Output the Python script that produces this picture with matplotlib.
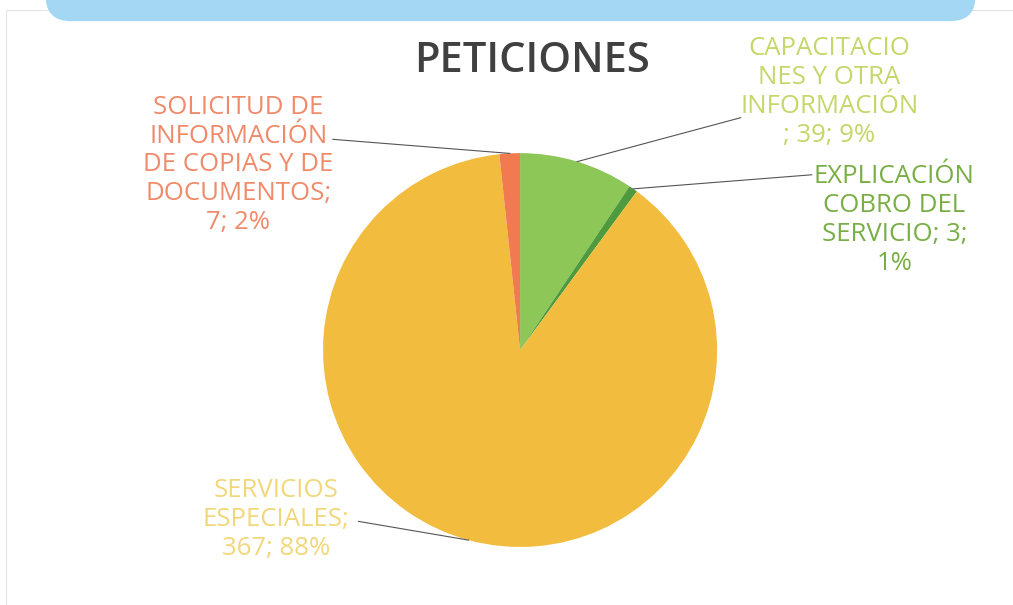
import matplotlib.pyplot as plt
import numpy as np
from matplotlib.patches import FancyBboxPatch, Rectangle

# data
labels = ['CAPACITACIO\nNES Y OTRA\nINFORMACIÓN\n; 39; 9%',
          'EXPLICACIÓN\nCOBRO DEL\nSERVICIO; 3;\n1%',
          'SERVICIOS\nESPECIALES;\n367; 88%',
          'SOLICITUD DE\nINFORMACIÓN\nDE COPIAS Y DE\nDOCUMENTOS;\n7; 2%']
values = [39, 3, 367, 7]
colors = ['#8DC757', '#4E9A3C', '#F2BC3F', '#F27A50']
text_colors = ['#C5D66A', '#79AE45', '#F2D77A', '#EF8A6A']
# label centre positions (in pie radius units) and where the leader meets the text
label_pos = [(1.57, 1.31), (1.90, 0.66), (-1.24, -0.86), (-1.43, 0.94)]
line_end = [(1.12, 1.18), (1.48, 0.89), (-0.82, -0.87), (-0.95, 1.07)]

fig = plt.figure(figsize=(10.13, 6.05), dpi=100)
fig.patch.set_facecolor('white')

# faint chart frame and the cut-off banner on top
fig.add_artist(Rectangle((0.006, -0.1), 1.1, 1.083, transform=fig.transFigure,
                         fill=False, edgecolor='#e4e4e4', linewidth=0.8))
fig.add_artist(FancyBboxPatch((0.045, 0.965), 0.918, 0.1, transform=fig.transFigure,
                              boxstyle='round,pad=0,rounding_size=0.025',
                              facecolor='#A4D7F4', edgecolor='none', mutation_aspect=1.67))

fig.text(0.525, 0.9, 'PETICIONES', ha='center', va='center', fontsize=30,
         fontweight='semibold', color='#404040', family='Open Sans')

ax = fig.add_axes([0.3189, 0.0959, 0.389, 0.651])
wedges, _ = ax.pie(values, colors=colors, startangle=90, counterclock=False,
                   wedgeprops=dict(linewidth=0))
ax.set_xlim(-1, 1)
ax.set_ylim(-1, 1)
ax.set_aspect('auto')

for w, lab, pos, le, tc in zip(wedges, labels, label_pos, line_end, text_colors):
    ang = np.deg2rad((w.theta1 + w.theta2) / 2)
    x0, y0 = np.cos(ang), np.sin(ang)
    ax.plot([x0, le[0]], [y0, le[1]], color='#555555', linewidth=0.8, clip_on=False)
    ax.text(pos[0], pos[1], lab, ha='center', va='center', fontsize=18.5,
            color=tc, family='Open Sans', linespacing=1.2, clip_on=False)

fig.savefig('out.png', dpi=100)
